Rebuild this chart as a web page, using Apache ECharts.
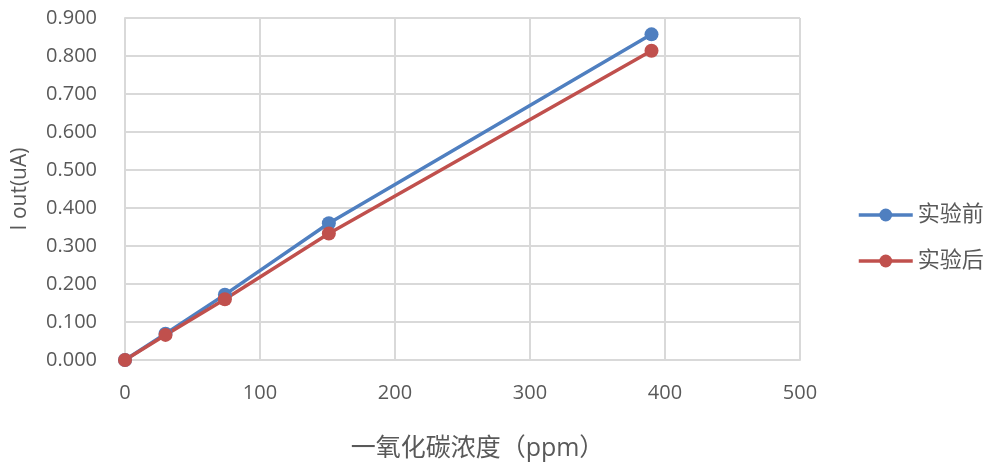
<!DOCTYPE html>
<html><head><meta charset="utf-8">
<script src="https://cdn.jsdelivr.net/npm/echarts@6/dist/echarts.min.js"></script>
<style>html,body{margin:0;padding:0;background:#fff}#c{width:992px;height:462px}</style>
</head><body><div id="c"></div>
<script>
var xValues = [0, 30, 74, 151, 390];
var beforeValues = [0, 0.069, 0.172, 0.360, 0.857];
var afterValues = [0, 0.066, 0.160, 0.333, 0.814];
var seriesNames = ['实验前', '实验后'];
var xTitle = '一氧化碳浓度（ppm）';
var yTitle = 'I out(uA)';

function pairs(xs, ys){ return xs.map(function(x,i){return [x, ys[i]];}); }
var font = 'Open Sans, Noto Sans CJK SC, sans-serif';
var chart = echarts.init(document.getElementById('c'), null, {renderer:'canvas'});
chart.setOption({
  animation:false,
  backgroundColor:'#fff',
  grid:{left:125, right:192, top:18, bottom:102, containLabel:false, outerBoundsMode:'none'},
  legend:{
    orient:'vertical', left:852, top:199, itemGap:24, itemWidth:54, itemHeight:16,
    lineStyle:{width:3.5},
    textStyle:{color:'#595959', fontSize:22, fontFamily:font},
    data:seriesNames
  },
  xAxis:{
    type:'value', min:0, max:500, interval:100,
    name:xTitle, nameLocation:'middle', nameGap:76,
    nameTextStyle:{color:'#595959', fontSize:25, fontFamily:font, padding:[0,0,0,30]},
    axisLine:{show:true, lineStyle:{color:'#d9d9d9', width:2}},
    axisTick:{show:false},
    axisLabel:{color:'#595959', fontSize:20, fontFamily:font, margin:23},
    splitLine:{show:true, lineStyle:{color:'#d9d9d9', width:2}}
  },
  yAxis:{
    type:'value', min:0, max:0.9, interval:0.1,
    name:yTitle, nameLocation:'middle', nameGap:94, nameRotate:90,
    nameTextStyle:{color:'#595959', fontSize:21, fontFamily:font},
    axisLine:{show:true, lineStyle:{color:'#d9d9d9', width:2}},
    axisTick:{show:false},
    axisLabel:{color:'#595959', fontSize:20, fontFamily:font, margin:28,
      formatter:function(v){return v.toFixed(3);}},
    splitLine:{show:true, lineStyle:{color:'#d9d9d9', width:2}}
  },
  series:[
    {name:seriesNames[0], type:'line', data:pairs(xValues, beforeValues),
     symbol:'circle', symbolSize:14, lineStyle:{width:3.5, color:'#4f7fc0'},
     itemStyle:{color:'#4f7fc0'}},
    {name:seriesNames[1], type:'line', data:pairs(xValues, afterValues),
     symbol:'circle', symbolSize:14, lineStyle:{width:3.5, color:'#c0504d'},
     itemStyle:{color:'#c0504d'}}
  ]
});
</script></body></html>
